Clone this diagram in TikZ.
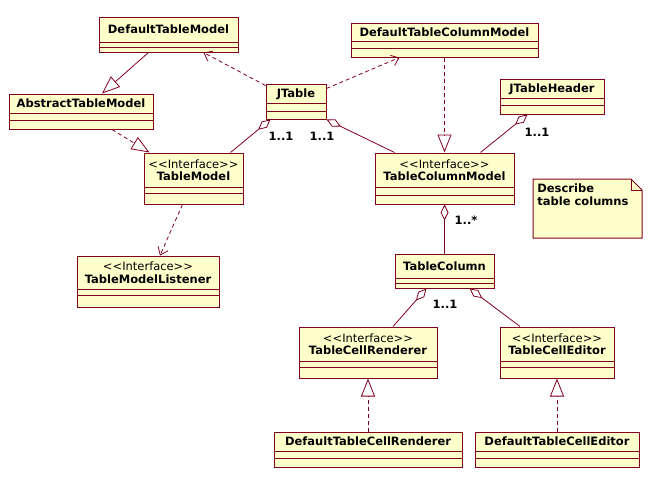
\documentclass[tikz,border=0pt]{standalone}
\usepackage{fontspec}
\setmainfont{DejaVu Sans}
\usetikzlibrary{arrows.meta}
\definecolor{umlred}{HTML}{800020}
\definecolor{umlfill}{HTML}{FFFFCC}
\newcommand{\umlfont}{\fontsize{11.5}{12.5}\selectfont}
\newcommand{\ifacelabel}{{\mdseries<{}<Interface>{}>}}
\begin{document}
\begin{tikzpicture}[x=1pt, y=-1pt, line width=0.8pt,
    cls/.style = {draw=umlred, fill=umlfill, line width=1pt, inner sep=0pt, font=\umlfont\bfseries, text height=8.4pt},
    iface/.style = {cls, align=center, text height=21pt},
    parts/.style 2 args = {text depth=#1pt, path picture={
        \draw[umlred, line width=1pt] ([yshift=#1pt]path picture bounding box.south west) -- ([yshift=#1pt]path picture bounding box.south east)
            ([yshift=#2pt]path picture bounding box.south west) -- ([yshift=#2pt]path picture bounding box.south east);}},
    mult/.style = {inner sep=0pt, font=\umlfont\bfseries},
    gen/.style = {draw=umlred, -{Triangle[open, length=18pt, width=14pt]}},
    real/.style = {gen, dash pattern=on 4pt off 3pt},
    dep/.style = {draw=umlred, dash pattern=on 4pt off 3pt, -{Straight Barb[length=7pt, width=11pt]}},
    agg/.style = {draw=umlred, {Diamond[open, length=16pt, width=8pt]}-}]

    \useasboundingbox (0,0) rectangle (651,479);

    \node[cls, minimum width=139pt, minimum height=35pt, parts={10}{5}] (dtm) at (168.5,34.5) {DefaultTableModel};
    \node[cls, minimum width=144pt, minimum height=35pt, parts={16}{8.5}] (atm) at (81,111.5) {AbstractTableModel};
    \node[cls, minimum width=60pt, minimum height=35pt, parts={16}{8}] (jt) at (296,101.5) {JTable};
    \node[iface, minimum width=99pt, minimum height=51pt, parts={17}{11}] (tm) at (193.5,178.5) {\ifacelabel\\TableModel};
    \node[iface, minimum width=142pt, minimum height=51pt, parts={18}{12}] (tml) at (148,281.5) {\ifacelabel\\TableModelListener};

    \node[cls, minimum width=187pt, minimum height=34pt, parts={16}{8.5}] (dtcm) at (444.5,40) {DefaultTableColumnModel};
    \node[cls, minimum width=104pt, minimum height=35pt, parts={16}{8.5}] (jth) at (552,96.5) {JTableHeader};
    \node[iface, minimum width=139pt, minimum height=51pt, parts={17}{9}] (tcm) at (444.5,178.5) {\ifacelabel\\TableColumnModel};
    \node[cls, minimum width=99pt, minimum height=34pt, parts={10}{5}] (tc) at (444.5,271) {TableColumn};

    \node[iface, minimum width=138pt, minimum height=51pt, parts={17}{11}] (tcr) at (368,352.5) {\ifacelabel\\TableCellRenderer};
    \node[iface, minimum width=114pt, minimum height=51pt, parts={17}{11}] (tce) at (557,352.5) {\ifacelabel\\TableCellEditor};
    \node[cls, minimum width=188pt, minimum height=35pt, parts={16}{9}] (dtcr) at (368,449.5) {DefaultTableCellRenderer};
    \node[cls, minimum width=164pt, minimum height=35pt, parts={16}{9}] (dtce) at (557,449.5) {DefaultTableCellEditor};

    \draw[umlred, line width=1pt, fill=umlfill] (533,179) -- (631,179) -- (642,190) -- (642,238) -- (533,238) -- cycle;
    \draw[umlred, line width=1pt] (631,179) |- (642,190);
    \node[mult, anchor=north west, align=left] (note) at (537,183.5) {Describe\\table columns};

    \draw[gen] ([xshift=-20pt]dtm.south) -- ([xshift=21pt]atm.north);
    \draw[real] ([xshift=31pt]atm.south) -- ([xshift=6pt]tm.north west);
    \draw[dep] ([yshift=-2pt]jt.north west) -- ([xshift=-35pt]dtm.south east);
    \draw[dep] ([yshift=-5pt]jt.north east) -- ([xshift=-45pt]dtcm.south);
    \draw[real] (dtcm.south) -- (tcm.north);
    \draw[dep] ([xshift=-11pt]tm.south) -- ([xshift=12pt]tml.north);

    \draw[agg] ([xshift=5pt]jt.south west) -- ([xshift=-13pt]tm.north east);
    \draw[agg] (jt.south east) -- ([xshift=20pt]tcm.north west);
    \draw[agg] ([xshift=28pt]jth.south west) -- ([xshift=-34pt]tcm.north east);
    \draw[agg] (tcm.south) -- (tc.north);
    \draw[agg] ([xshift=32pt]tc.south west) -- ([xshift=25pt]tcr.north);
    \draw[agg] ([xshift=25pt]tc.south) -- ([xshift=-37pt]tce.north);

    \draw[real] (dtcr.north) -- (tcr.south);
    \draw[real] (dtce.north) -- (tce.south);

    \node[mult] (m1) at (281,136) {1..1};
    \node[mult] (m2) at (322,136) {1..1};
    \node[mult] (m3) at (537,132) {1..1};
    \node[mult] (m4) at (466,220) {1..*};
    \node[mult] (m5) at (445,304) {1..1};
\end{tikzpicture}
\end{document}
